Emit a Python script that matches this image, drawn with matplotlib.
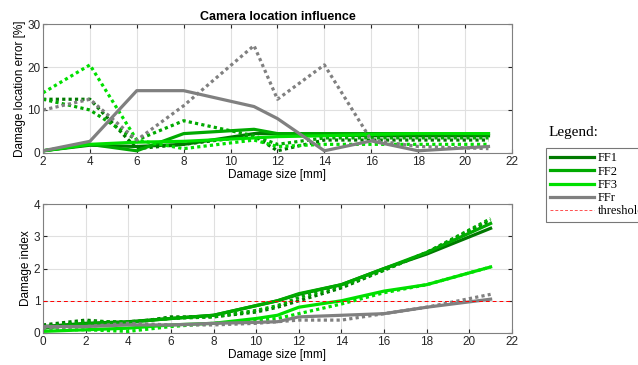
import numpy as np
import matplotlib.pyplot as plt
from matplotlib.lines import Line2D

# damage sizes [mm]
size_top = [2, 4, 6, 8, 11, 12, 14, 16, 18, 21]
size_bot = [0, 2, 4, 6, 8, 10, 11, 12, 14, 16, 18, 21]

# damage location error [%] - solid / dotted per camera setup
err_ff1 = [0.5, 1.8, 1.5, 2.0, 4.5, 4.5, 4.2, 4.0, 4.0, 4.0]
err_ff2 = [0.5, 2.0, 0.5, 4.5, 5.5, 4.5, 4.5, 4.5, 4.5, 4.5]
err_ff3 = [0.5, 2.0, 2.5, 2.7, 3.5, 3.8, 4.0, 4.3, 4.5, 4.5]
err_ffr = [0.5, 2.7, 14.5, 14.5, 10.8, 8.0, 0.5, 2.8, 0.5, 1.5]
err_ff1_d = [12.5, 12.5, 1.0, 2.0, 4.0, 0.5, 3.0, 3.0, 3.0, 3.0]
err_ff2_d = [12.5, 10.0, 3.0, 7.5, 4.0, 2.0, 3.5, 3.5, 3.5, 3.5]
err_ff3_d = [14.0, 20.5, 3.0, 1.0, 3.0, 1.5, 2.0, 2.0, 2.0, 2.0]
err_ffr_d = [10.0, 12.5, 3.0, 11.0, 25.0, 12.5, 20.5, 3.0, 1.5, 1.0]

# damage index
di_ff1 = [0.2, 0.3, 0.35, 0.45, 0.55, 0.85, 1.0, 1.2, 1.5, 2.0, 2.45, 3.25]
di_ff2 = [0.15, 0.28, 0.33, 0.45, 0.55, 0.85, 1.0, 1.22, 1.5, 2.0, 2.5, 3.4]
di_ff3 = [0.05, 0.1, 0.15, 0.25, 0.3, 0.45, 0.55, 0.8, 1.0, 1.3, 1.5, 2.05]
di_ffr = [0.2, 0.2, 0.25, 0.25, 0.3, 0.33, 0.35, 0.5, 0.55, 0.6, 0.8, 1.05]
di_ff1_d = [0.25, 0.4, 0.3, 0.5, 0.5, 0.65, 0.8, 1.0, 1.4, 1.95, 2.5, 3.5]
di_ff2_d = [0.2, 0.35, 0.35, 0.45, 0.5, 0.7, 0.85, 1.1, 1.45, 1.95, 2.5, 3.55]
di_ff3_d = [0.1, 0.1, 0.05, 0.2, 0.3, 0.4, 0.45, 0.6, 0.9, 1.25, 1.5, 2.05]
di_ffr_d = [0.15, 0.2, 0.3, 0.25, 0.25, 0.3, 0.35, 0.4, 0.4, 0.6, 0.8, 1.2]
threshold = 1.0

c1 = '#007a00'
c2 = '#00aa00'
c3 = '#00e000'
cr = '#808080'

plt.rcParams['font.family'] = ['Liberation Sans', 'DejaVu Sans']
plt.rcParams['font.size'] = 8.5

fig = plt.figure(figsize=(6.38, 3.65), dpi=100)
ax1 = fig.add_axes([0.0674, 0.581, 0.735, 0.353])
ax2 = fig.add_axes([0.0674, 0.0877, 0.735, 0.353])

lw = 2.3
for ax, x, data in [
    (ax1, size_top, [(err_ff1, err_ff1_d, c1), (err_ff2, err_ff2_d, c2), (err_ff3, err_ff3_d, c3), (err_ffr, err_ffr_d, cr)]),
    (ax2, size_bot, [(di_ff1, di_ff1_d, c1), (di_ff2, di_ff2_d, c2), (di_ff3, di_ff3_d, c3), (di_ffr, di_ffr_d, cr)]),
]:
    for s, d, c in data:
        ax.plot(x, d, color=c, lw=lw, ls=(0, (1, 1)))
        ax.plot(x, s, color=c, lw=lw)

ax2.axhline(threshold, color='#ff0000', lw=0.7, ls=(0, (4, 3)), zorder=5)

ax1.set_xlim(2, 22)
ax1.set_ylim(0, 30)
ax1.set_xticks(np.arange(2, 23, 2))
ax1.set_yticks([0, 10, 20, 30])
ax1.set_xlabel('Damage size [mm]', labelpad=1)
ax1.set_ylabel('Damage location error [%]', labelpad=1)
ax1.set_title('Camera location influence', fontweight='bold', fontsize=9, pad=3)

ax2.set_xlim(0, 22)
ax2.set_ylim(0, 4)
ax2.set_xticks(np.arange(0, 23, 2))
ax2.set_yticks([0, 1, 2, 3, 4])
ax2.set_xlabel('Damage size [mm]', labelpad=1)
ax2.set_ylabel('Damage index', labelpad=1)

for ax in [ax1, ax2]:
    ax.grid(True, color='#e0e0e0', lw=0.8)
    ax.set_axisbelow(True)
    ax.tick_params(direction='in', length=3, colors='#262626', pad=2, top=True, right=True, labeltop=False, labelright=False)
    for sp in ax.spines.values():
        sp.set_color('#808080')

handles = [
    Line2D([], [], color=c1, lw=2.3),
    Line2D([], [], color=c2, lw=2.3),
    Line2D([], [], color=c3, lw=2.3),
    Line2D([], [], color=cr, lw=2.3),
    Line2D([], [], color='#ff5050', lw=0.7, ls=(0, (3, 2))),
]
leg = fig.legend(handles, ['FF1', 'FF2', 'FF3', 'FFr', 'threshold'], loc='upper left',
                 bbox_to_anchor=(546 / 638, 1 - 148 / 365), frameon=True, fancybox=False,
                 prop={'family': 'Liberation Serif', 'size': 9}, handlelength=3.5,
                 handletextpad=0.3, labelspacing=0.1, borderaxespad=0, borderpad=0.35)
leg.get_frame().set_edgecolor('#555555')
leg.get_frame().set_linewidth(0.8)
fig.text(549 / 638, 1 - 133 / 365, 'Legend:', family='Liberation Serif', fontsize=11, va='center')

fig.savefig('out.png', dpi=100)
